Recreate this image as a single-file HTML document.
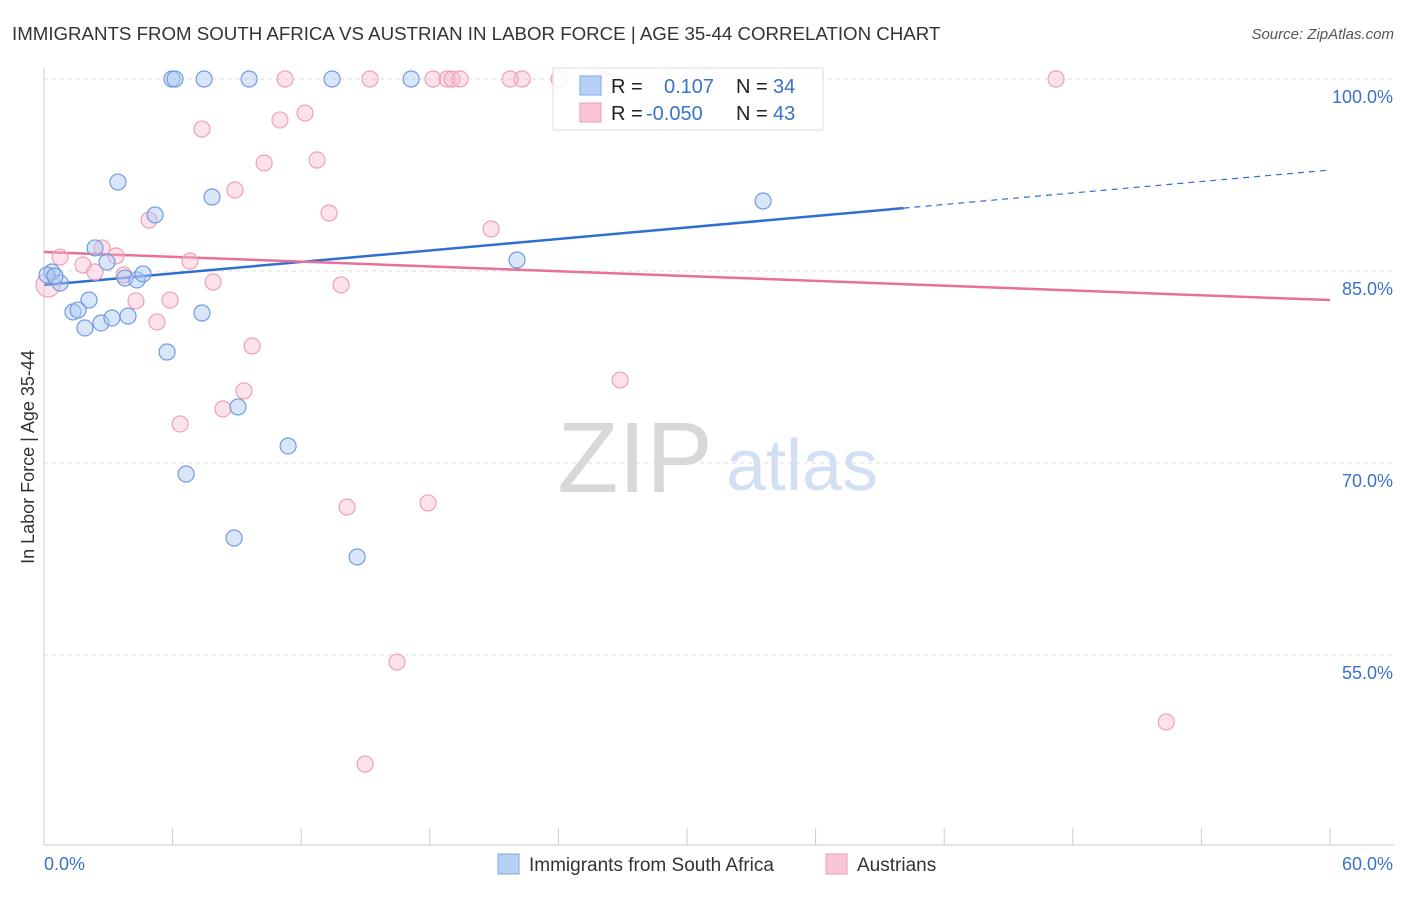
<!DOCTYPE html>
<html><head><meta charset="utf-8"><style>
body{margin:0;background:#fff;font-family:"Liberation Sans",sans-serif;}
svg text{font-family:"Liberation Sans",sans-serif;}
</style></head><body>
<svg id="chart" width="1406" height="892" xmlns="http://www.w3.org/2000/svg">
<text x="12" y="40" font-size="18.7" fill="#333">IMMIGRANTS FROM SOUTH AFRICA VS AUSTRIAN IN LABOR FORCE | AGE 35-44 CORRELATION CHART</text>
<text x="1394" y="39" font-size="15" fill="#555" font-style="italic" text-anchor="end">Source: ZipAtlas.com</text>
<g><text x="635" y="492" font-size="100" fill="#d8d8d8" text-anchor="middle" font-family="Liberation Serif">ZIP</text><text x="802" y="490" font-size="72" fill="#d3e0f3" text-anchor="middle">atlas</text></g>
<g id="grid"></g><g id="axes"></g><g id="lines"></g><g id="pts"></g>
<text transform="translate(34,457) rotate(-90)" font-size="18" fill="#333" text-anchor="middle">In Labor Force | Age 35-44</text>
<g>
<rect x="553" y="68" width="270" height="62" fill="rgba(255,255,255,0.85)" stroke="#ddd"/>
<rect x="580" y="76" width="21" height="19" fill="#b8d0f5" stroke="#7fa6e6"/>
<rect x="580" y="103" width="21" height="19" fill="#f9c5d5" stroke="#ee9ab4"/>
<text x="611" y="93" font-size="20" fill="#222">R =</text><text x="664" y="93" font-size="20" fill="#3a72c8">0.107</text>
<text x="736" y="93" font-size="20" fill="#222">N =</text><text x="773" y="93" font-size="20" fill="#3a72c8">34</text>
<text x="611" y="120" font-size="20" fill="#222">R =</text><text x="646" y="120" font-size="20" fill="#3a72c8">-0.050</text>
<text x="736" y="120" font-size="20" fill="#222">N =</text><text x="773" y="120" font-size="20" fill="#3a72c8">43</text>
</g>
<g>
<rect x="498" y="854" width="21" height="20" fill="#b8d0f5" stroke="#7fa6e6"/>
<text x="529" y="871" font-size="19" fill="#333">Immigrants from South Africa</text>
<rect x="826" y="854" width="21" height="20" fill="#f9c5d5" stroke="#ee9ab4"/>
<text x="857" y="871" font-size="19" fill="#333">Austrians</text>
</g>
</svg>
<script>
const yTicks=[100,85,70,55];
const yTickLabels=["100.0%","85.0%","70.0%","55.0%"];
const xTickLabels=["0.0%","60.0%"];
const blueX=[5.97,6.11,7.47,9.57,13.44,17.13,3.45,7.84,5.18,33.55,2.38,2.94,22.07,0.37,0.14,3.78,4.34,4.62,0.75,2.1,1.35,1.59,2.66,3.17,3.92,1.91,7.37,5.74,9.05,11.39,6.63,8.87,14.61,0.51];
const blueY=[100,100,100,100,100,100,91.95,90.78,89.38,90.47,86.8,85.7,85.86,84.92,84.69,84.45,84.3,84.77,84.06,82.73,81.8,81.95,80.94,81.33,81.48,80.55,81.72,78.67,74.38,71.33,69.14,64.14,62.66,84.6];
const pinkX=[11.25,15.21,18.15,18.81,19.04,19.41,21.75,22.31,24.03,47.22,26.13,7.37,11.01,12.18,10.27,12.74,8.91,13.3,4.9,20.86,0.75,2.71,3.36,1.82,6.81,2.38,3.73,7.89,13.86,0.19,4.29,5.88,5.27,9.71,9.33,8.35,6.35,26.88,14.14,17.92,16.47,14.98,52.36];
const pinkY=[100,100,100,100,100,100,100,100,100,100,100,96.09,96.8,97.34,93.44,93.67,91.33,89.53,88.98,88.28,86.09,86.8,86.17,85.47,85.78,84.92,84.69,84.14,83.91,83.91,82.66,82.73,81.02,79.14,75.63,74.22,73.05,76.48,66.56,66.88,54.45,46.48,49.77];
const blueTrend=[83.91,92.89];
const pinkTrend=[86.48,82.73];
const blueSolidEnd=40.1;
const NS="http://www.w3.org/2000/svg";
const X=v=>44+v*(1286/60), Y=v=>79+(100-v)*12.8;
function mk(p,t,a){const e=document.createElementNS(NS,t);for(const k in a)e.setAttribute(k,a[k]);document.getElementById(p).appendChild(e);return e;}
yTicks.forEach((t,i)=>{
 const g=mk('grid','line',{x1:44,x2:1394,y1:Y(t),y2:Y(t),stroke:'#ddd','stroke-dasharray':'4,4'});
 
 
 const tx=mk('grid','text',{x:1393,y:Y(t)+24,'font-size':18,fill:'#3a72c8','text-anchor':'end'});tx.textContent=yTickLabels[i];
 
 
});
const ax=mk('axes','line',{x1:44,x2:44,y1:68,y2:845,stroke:'#ccc'});


const bx=mk('axes','line',{x1:44,x2:1394,y1:845,y2:845,stroke:'#ccc'});


for(let i=0;i<=10;i++){const t=mk('axes','line',{x1:X(i*6),x2:X(i*6),y1:828,y2:845,stroke:'#ccc'});
 
 }
[[0,'start',44],[60,'end',1393]].forEach(([v,a,x],i)=>{const t=mk('axes','text',{x:x,y:870,'font-size':18,fill:'#3a72c8','text-anchor':a});t.textContent=xTickLabels[i];
 
 });
const by=v=>blueTrend[0]+(blueTrend[1]-blueTrend[0])*v/60;
let l=mk('lines','line',{x1:X(0),y1:Y(by(0)),x2:X(blueSolidEnd),y2:Y(by(blueSolidEnd)),stroke:'#2f6fd0','stroke-width':2.5});


l=mk('lines','line',{x1:X(blueSolidEnd),y1:Y(by(blueSolidEnd)),x2:X(60),y2:Y(by(60)),stroke:'#2f6fd0','stroke-width':1.2,'stroke-dasharray':'6,5'});


l=mk('lines','line',{x1:X(0),y1:Y(pinkTrend[0]),x2:X(60),y2:Y(pinkTrend[1]),stroke:'#e8709a','stroke-width':2.5});


pinkX.forEach((x,i)=>{const c=mk('pts','circle',{cx:X(x),cy:Y(pinkY[i]),r:i==29?12:8,fill:'rgba(248,185,205,0.4)',stroke:'#eea0b8','stroke-width':1.2});
 
 });
blueX.forEach((x,i)=>{const c=mk('pts','circle',{cx:X(x),cy:Y(blueY[i]),r:8,fill:'rgba(170,200,245,0.45)',stroke:'#6f9be0','stroke-width':1.2});
 
 });
</script>
</body></html>
